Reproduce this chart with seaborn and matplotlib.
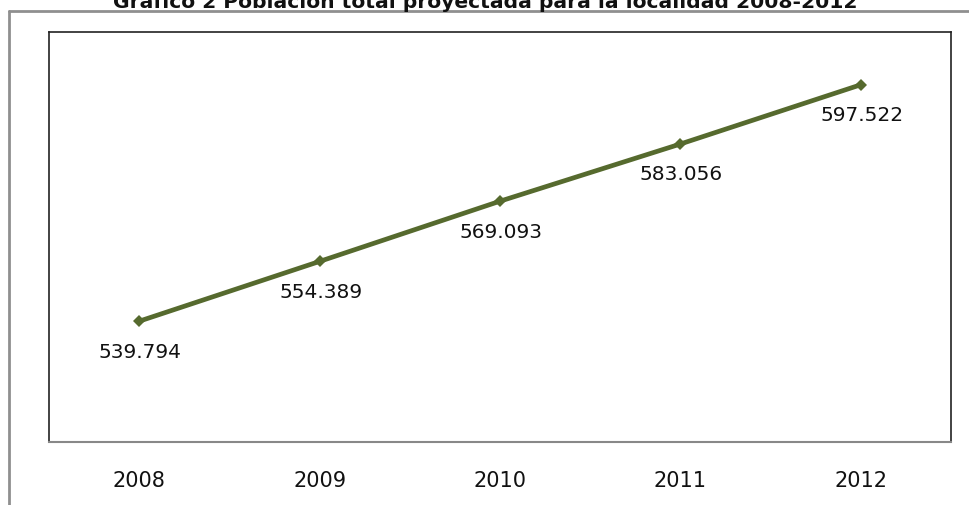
import matplotlib
matplotlib.use("Agg")
import matplotlib.pyplot as plt
import seaborn as sns
import pandas as pd
from matplotlib.lines import Line2D

years = ["2008", "2009", "2010", "2011", "2012"]
population = [539.794, 554.389, 569.093, 583.056, 597.522]
value_labels = ["539.794", "554.389", "569.093", "583.056", "597.522"]
title = "Gráfico 2 Población total proyectada para la localidad 2008-2012"

sns.set_theme(style="white")
plt.rcParams['font.family'] = ['DejaVu Sans']

W, H = 970, 506
fig = plt.figure(figsize=(W / 100, H / 100), dpi=100)
ax = fig.add_axes([49 / W, 1 - 443 / H, (951 - 49) / W, (443 - 33) / H])

df = pd.DataFrame({"year": years, "pop": population})
df["x"] = range(len(years))
sns.lineplot(data=df, x="x", y="pop", ax=ax, color="#566a2e", linewidth=3.4,
             marker="D", markersize=6, markeredgewidth=0, markerfacecolor="#566a2e")

for i, (v, lab) in enumerate(zip(population, value_labels)):
    ax.annotate(lab, (i, v), xytext=(1, -30), textcoords="offset pixels",
                ha="center", va="center", fontsize=14.5, color="#111111")

ax.set_xlim(-0.5, 4.5)
ax.set_ylim(510.3, 610.4)
ax.set_xticks(range(len(years)))
ax.set_xticklabels(years, fontsize=15, color="#111111")
ax.tick_params(axis="x", length=0, pad=20)
ax.set_yticks([])
ax.set_xlabel("")
ax.set_ylabel("")
for s in ["top", "left", "right"]:
    ax.spines[s].set_color("#222222")
    ax.spines[s].set_linewidth(1.2)
ax.spines["bottom"].set_color("#888888")
ax.spines["bottom"].set_linewidth(1.5)

# outer frame
fig.add_artist(Line2D([9 / W, 1], [1 - 12 / H, 1 - 12 / H], color="#8f8f8f", linewidth=2, transform=fig.transFigure))
fig.add_artist(Line2D([9 / W, 9 / W], [0, 1 - 12 / H], color="#8f8f8f", linewidth=2, transform=fig.transFigure))

fig.text(0.5, 1 - 8 / H, title, ha="center", va="baseline", fontsize=14.6, fontweight="bold", color="#111111")

fig.savefig("out.png", dpi=100)
